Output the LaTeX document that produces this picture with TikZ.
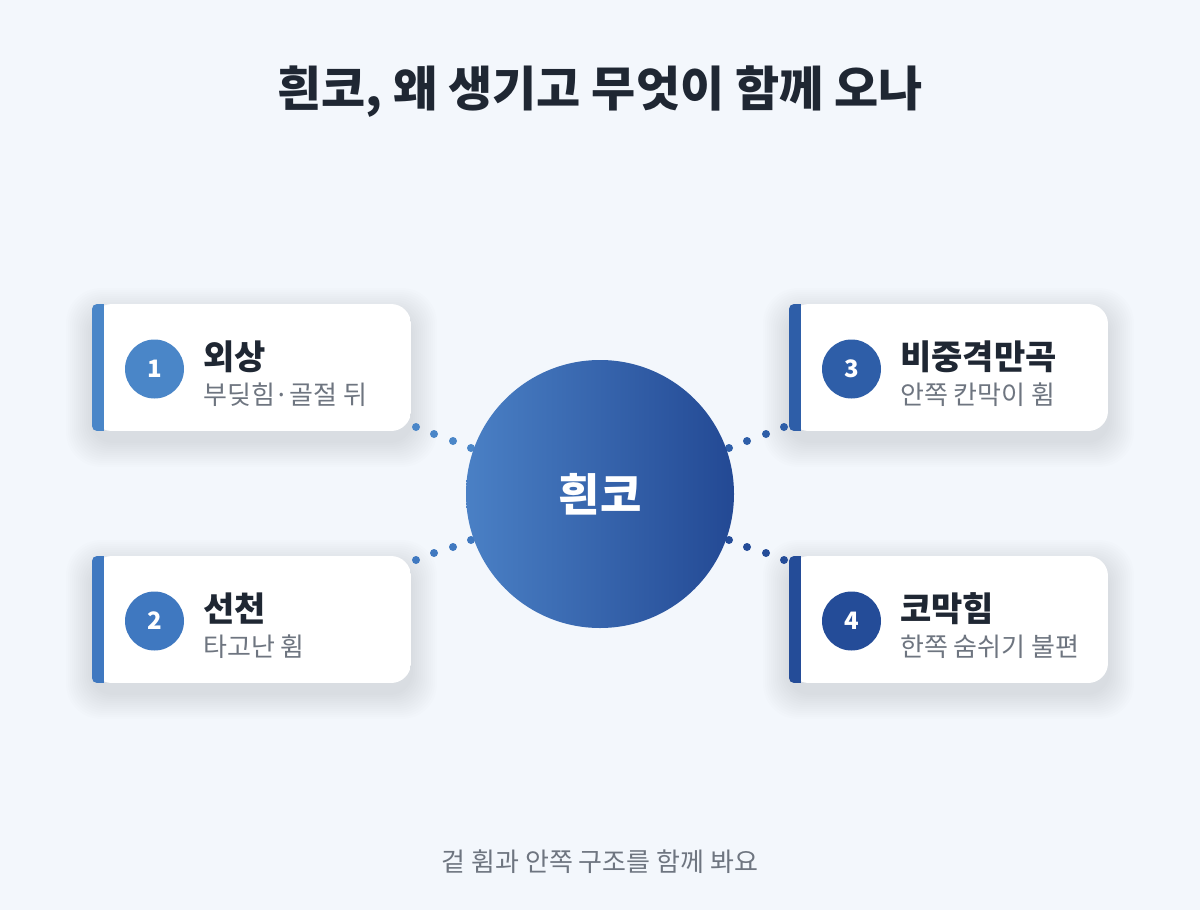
\documentclass[tikz,border=0pt]{standalone}
\usepackage{fontspec}
\setmainfont{Noto Sans CJK KR}
\usetikzlibrary{calc}
\definecolor{bgc}{HTML}{F3F7FC}
\definecolor{titlec}{HTML}{1F2733}
\definecolor{grayt}{HTML}{6E7580}
\definecolor{cA}{HTML}{4A86C8}
\definecolor{cB}{HTML}{3F78C0}
\definecolor{cC}{HTML}{2E5EA8}
\definecolor{cD}{HTML}{244C98}
\definecolor{gL}{HTML}{4A80C5}
\definecolor{gR}{HTML}{234994}
\tikzset{
  dotc/.style={circle,inner sep=0pt,minimum size=8pt},
  numc/.style={circle,inner sep=0pt,minimum size=59pt,text=white,font=\fontsize{24}{24}\selectfont\bfseries},
  ctitle/.style={anchor=west,inner sep=0pt,text=titlec,font=\fontsize{34}{34}\selectfont\bfseries},
  csub/.style={anchor=west,inner sep=0pt,text=grayt,font=\fontsize{26}{26}\selectfont},
}
\newcommand{\mycard}[6]{% x y color num title sub
  \begin{scope}[shift={(#1,#2)}]
    \foreach \k in {2,4,...,26}{
      \fill[black,opacity=0.008,rounded corners=22pt+\k*0.5pt] (-\k,-\k+10) rectangle (319+\k,127+\k+10);
    }
    \begin{scope}
      \clip[rounded corners=20pt] (0,0) rectangle (319,127);
      \fill[white] (0,0) rectangle (319,127);
    \end{scope}
    \begin{scope}
      \clip[rounded corners=5pt] (0,0) rectangle (40,127);
      \fill[#3] (0,0) rectangle (12,127);
    \end{scope}
    \node[numc,fill=#3] (n#4) at (62.5,65) {#4};
    \node[ctitle] (t#4) at (111,53) {#5};
    \node[csub] (s#4) at (111,91) {#6};
  \end{scope}
}
\begin{document}
\begin{tikzpicture}[x=1pt,y=-1pt]
\fill[bgc] (0,0) rectangle (1200,910);
\useasboundingbox (0,0) rectangle (1200,910);
\node[text=titlec,font=\fontsize{48}{48}\selectfont\bfseries] (title) at (600,92) {흰코, 왜 생기고 무엇이 함께 오나};
\mycard{92}{304}{cA}{1}{외상}{부딪힘·골절 뒤}
\mycard{92}{556}{cB}{2}{선천}{타고난 휨}
\mycard{789}{304}{cC}{3}{비중격만곡}{안쪽 칸막이 휨}
\mycard{789}{556}{cD}{4}{코막힘}{한쪽 숨쉬기 불편}
% dots
\foreach \x/\y in {416/427,434/434,453/441,471/448}{\node[dotc,fill=cA] at (\x,\y) {};}
\foreach \x/\y in {416/560,434/553,453/547,471/540}{\node[dotc,fill=cB] at (\x,\y) {};}
\foreach \x/\y in {729/448,747/441,766/434,784/427}{\node[dotc,fill=cC] at (\x,\y) {};}
\foreach \x/\y in {729/540,747/547,766/553,784/560}{\node[dotc,fill=cD] at (\x,\y) {};}
% center
\shade[left color=gL,right color=gR] (600,494) circle[radius=134];
\node[circle,minimum size=268pt,inner sep=0pt,text=white,font=\fontsize{45}{45}\selectfont\bfseries] (center) at (600,494) {흰코};
\node[text=grayt,font=\fontsize{26}{26}\selectfont] (foot) at (600,862) {겉 휨과 안쪽 구조를 함께 봐요};
\end{tikzpicture}
\end{document}
